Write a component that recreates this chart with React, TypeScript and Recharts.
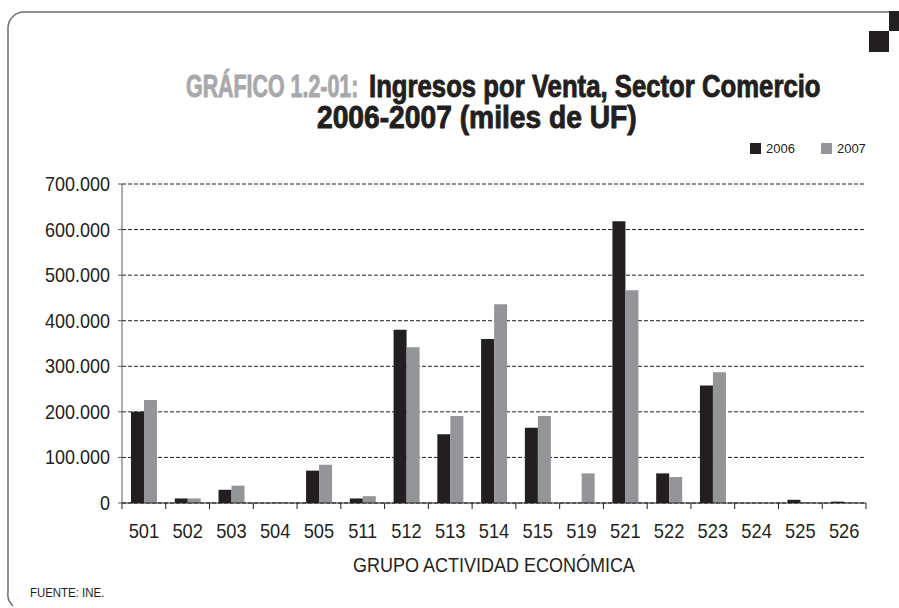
import React from 'react';
import {
  BarChart,
  Bar,
  XAxis,
  YAxis,
  CartesianGrid,
  Legend
} from 'recharts';

// Grupos de actividad económica (CIIU)
const grupos = ['501', '502', '503', '504', '505', '511', '512', '513', '514', '515', '519', '521', '522', '523', '524', '525', '526'];

// Ingresos por venta, miles de UF
const ventas2006 = [200000, 10000, 29000, 0, 71000, 10000, 380000, 151000, 360000, 165000, 0, 618000, 65000, 258000, 0, 7000, 3000];
const ventas2007 = [226000, 10000, 38000, 2000, 84000, 15000, 342000, 191000, 436000, 191000, 65000, 467000, 57000, 287000, 0, 2000, 2000];

const yTicks = [0, 100000, 200000, 300000, 400000, 500000, 600000, 700000];

const data = grupos.map((grupo, i) => ({
  grupo,
  v2006: ventas2006[i],
  v2007: ventas2007[i]
}));

const NEGRO = '#231f20';
const GRIS = '#939598';
const FONT = '"Liberation Sans", Arial, sans-serif';

// 700000 -> "700.000"
const formatMiles = (v: number) =>
  v === 0 ? '0' : String(v).replace(/\B(?=(\d{3})+(?!\d))/g, '.');

// texto comprimido horizontalmente (no hay fuente condensada instalada)
const Narrow = ({ x, y, sx, size, bold, fill, children }: any) => (
  <g transform={`translate(${x},${y}) scale(${sx},1)`}>
    <text
      fontFamily={FONT}
      fontWeight={bold ? 700 : 400}
      fontSize={size}
      fill={fill}
      stroke={bold ? fill : 'none'}
      strokeWidth={bold ? 0.9 : 0}
    >
      {children}
    </text>
  </g>
);

// eje X: etiqueta angosta + marcas en los límites de cada categoría
const GrupoTick = ({ x, y, payload, width, visibleTicksCount, index }: any) => {
  const half = width / visibleTicksCount / 2;
  return (
    <g transform={`translate(${x},${y})`}>
      <line x1={-half} x2={-half} y1={0} y2={6} stroke={NEGRO} strokeWidth={1} />
      {index === visibleTicksCount - 1 && (
        <line x1={half} x2={half} y1={0} y2={6} stroke={NEGRO} strokeWidth={1} />
      )}
      <text transform="scale(0.87,1)" textAnchor="middle" dy={35} fill={NEGRO} fontSize={21} fontFamily={FONT}>
        {payload.value}
      </text>
    </g>
  );
};

const ValorTick = ({ x, y, payload }: any) => (
  <g transform={`translate(${x},${y})`}>
    <text transform="scale(0.9,1)" textAnchor="end" dy={7} fill={NEGRO} fontSize={20} fontFamily={FONT}>
      {formatMiles(payload.value)}
    </text>
  </g>
);

const LegendContent = ({ payload }: any) => (
  <div style={{ display: 'flex', fontFamily: FONT, fontSize: 13, color: NEGRO }}>
    {(payload || []).map((entry: any, i: number) => (
      <div key={i} style={{ display: 'flex', alignItems: 'center', marginLeft: i ? 26 : 0 }}>
        <span style={{ width: 11, height: 11, background: entry.color, marginRight: 5 }} />
        <span>{entry.value}</span>
      </div>
    ))}
  </div>
);

const App: React.FC = () => {
  return (
    <div style={{ position: 'absolute', left: 0, top: 0, width: 899, height: 608, background: '#fff' }}>
      <svg width={899} height={608} style={{ position: 'absolute', left: 0, top: 0 }}>
        <path
          d="M 889 12 H 24 A 16 16 0 0 0 8 28 V 592 A 16 16 0 0 0 13 606"
          fill="none"
          stroke="#6d6e71"
          strokeWidth={1.5}
        />
        <rect x={889} y={11} width={10} height={20} fill={NEGRO} />
        <rect x={869} y={31} width={20} height={21} fill={NEGRO} />
        <Narrow x={186} y={97} sx={0.69} size={31} bold fill="#a7a9ac">GRÁFICO 1.2-01:</Narrow>
        <Narrow x={369} y={97} sx={0.83} size={31} bold fill={NEGRO}>Ingresos por Venta, Sector Comercio</Narrow>
        <Narrow x={317} y={128} sx={0.91} size={31} bold fill={NEGRO}>2006-2007 (miles de UF)</Narrow>
        <Narrow x={353} y={572} sx={0.9} size={20} fill={NEGRO}>GRUPO ACTIVIDAD ECONÓMICA</Narrow>
        <Narrow x={30} y={597} sx={0.88} size={13} fill={NEGRO}>FUENTE: INE.</Narrow>
      </svg>
      <div style={{ position: 'absolute', left: 0, top: 0 }}>
        <BarChart
          width={899}
          height={608}
          data={data}
          margin={{ top: 169, right: 33, left: 52, bottom: 65 }}
          barSize={13}
          barGap={0}
        >
          <CartesianGrid vertical={false} stroke={NEGRO} strokeDasharray="4 2" />
          <XAxis
            dataKey="grupo"
            tickLine={false}
            tickSize={0}
            tickMargin={0}
            axisLine={{ stroke: NEGRO }}
            interval={0}
            tick={<GrupoTick />}
            height={40}
          />
          <YAxis
            width={70}
            domain={[0, 700000]}
            ticks={yTicks}
            tickSize={4}
            tickMargin={8}
            tickLine={{ stroke: '#58595b' }}
            axisLine={{ stroke: '#58595b' }}
            tick={<ValorTick />}
          />
          <Legend
            content={<LegendContent />}
            verticalAlign="top"
            align="right"
            wrapperStyle={{ position: 'absolute', top: 141, left: 750, width: 140 }}
          />
          <Bar dataKey="v2006" name="2006" fill={NEGRO} isAnimationActive={false} />
          <Bar dataKey="v2007" name="2007" fill={GRIS} isAnimationActive={false} />
        </BarChart>
      </div>
    </div>
  );
};

export default App;
